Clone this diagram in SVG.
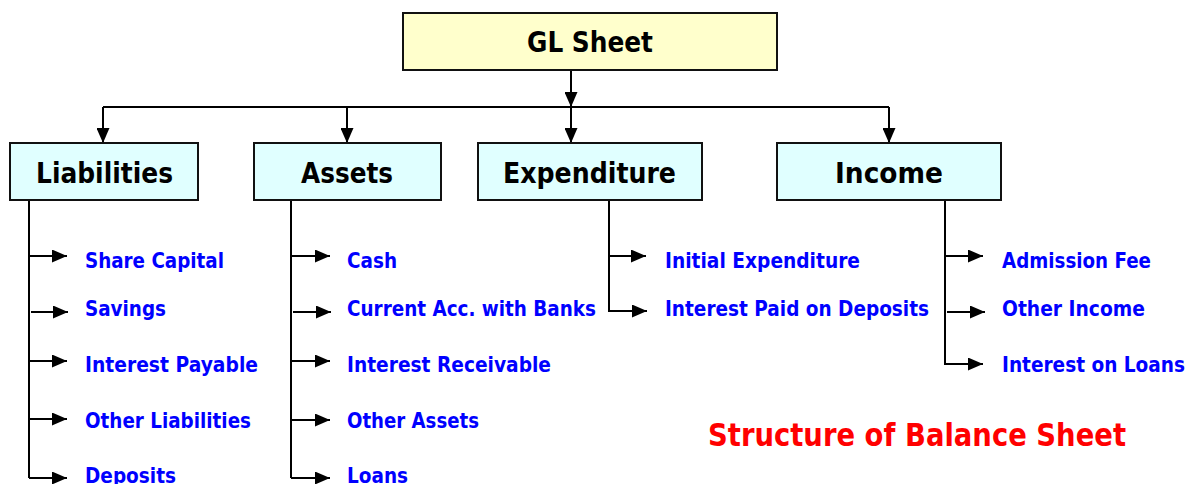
<svg xmlns="http://www.w3.org/2000/svg" width="1187" height="484" viewBox="0 0 1187 484">
  <style>
    .box { stroke: #111; stroke-width: 2; }
    .root { fill: #FFFFCC; }
    .cat { fill: #E0FFFF; }
    .head { font-family: "DejaVu Sans", Verdana, sans-serif; font-weight: bold; font-size: 28px; fill: #000; }
    .item { font-family: "DejaVu Sans", Verdana, sans-serif; font-weight: bold; font-size: 21px; fill: #0000FF; }
    .title { font-family: "DejaVu Sans", Verdana, sans-serif; font-weight: bold; font-size: 32px; fill: #FF0000; }
    .wire { fill: none; stroke: #000; stroke-width: 2; }
  </style>
  <defs>
    <marker id="arrow" markerUnits="userSpaceOnUse" markerWidth="15" markerHeight="13" refX="15" refY="6.5" orient="auto">
      <path d="M0,0 L15,6.5 L0,13 z" fill="#000"/>
    </marker>
  </defs>
  <rect width="1187" height="484" fill="#fff"/>

  <!-- connectors -->
  <g id="connectors" class="wire" marker-end="url(#arrow)">
    <path d="M571 70 V107"/>
    <path d="M103 107 H889" marker-end="none"/>
    <path d="M103 107 V143"/>
    <path d="M347 107 V143"/>
    <path d="M571 107 V143"/>
    <path d="M889 107 V143"/>

    <!-- liabilities -->
    <path d="M29 200 V478" marker-end="none"/>
    <path d="M29 256 H67"/>
    <path d="M31 312 H68"/>
    <path d="M29 361 H67"/>
    <path d="M29 419 H67"/>
    <path d="M29 478 H67"/>

    <!-- assets -->
    <path d="M291 200 V478" marker-end="none"/>
    <path d="M291 256 H330"/>
    <path d="M293 312 H331"/>
    <path d="M291 361 H330"/>
    <path d="M291 420 H330"/>
    <path d="M291 478 H330"/>

    <!-- expenditure -->
    <path d="M609 200 V311 H647"/>
    <path d="M609 256 H646"/>

    <!-- income -->
    <path d="M945 200 V364 H983"/>
    <path d="M945 256 H983"/>
    <path d="M947 312 H985"/>
  </g>

  <!-- nodes -->
  <g id="gl-sheet">
    <rect class="box root" x="403" y="13" width="374" height="57"/>
    <text class="head" x="527" y="52" textLength="126" lengthAdjust="spacingAndGlyphs">GL Sheet</text>
  </g>
  <g id="liabilities">
    <rect class="box cat" x="10" y="143" width="188" height="57"/>
    <text class="head" x="36" y="183" textLength="137" lengthAdjust="spacingAndGlyphs">Liabilities</text>
  </g>
  <g id="assets">
    <rect class="box cat" x="254" y="143" width="187" height="57"/>
    <text class="head" x="301" y="183" textLength="92" lengthAdjust="spacingAndGlyphs">Assets</text>
  </g>
  <g id="expenditure">
    <rect class="box cat" x="478" y="143" width="224" height="57"/>
    <text class="head" x="503" y="183" textLength="173" lengthAdjust="spacingAndGlyphs">Expenditure</text>
  </g>
  <g id="income">
    <rect class="box cat" x="777" y="143" width="224" height="57"/>
    <text class="head" x="835" y="183" textLength="108" lengthAdjust="spacingAndGlyphs">Income</text>
  </g>

  <g id="liability-items">
    <text class="item" x="85" y="268" textLength="139" lengthAdjust="spacingAndGlyphs">Share Capital</text>
    <text class="item" x="85" y="316" textLength="81" lengthAdjust="spacingAndGlyphs">Savings</text>
    <text class="item" x="85" y="372" textLength="173" lengthAdjust="spacingAndGlyphs">Interest Payable</text>
    <text class="item" x="85" y="428" textLength="166" lengthAdjust="spacingAndGlyphs">Other Liabilities</text>
    <text class="item" x="85" y="483" textLength="91" lengthAdjust="spacingAndGlyphs">Deposits</text>
  </g>
  <g id="asset-items">
    <text class="item" x="347" y="268" textLength="50" lengthAdjust="spacingAndGlyphs">Cash</text>
    <text class="item" x="347" y="316" textLength="249" lengthAdjust="spacingAndGlyphs">Current Acc. with Banks</text>
    <text class="item" x="347" y="372" textLength="204" lengthAdjust="spacingAndGlyphs">Interest Receivable</text>
    <text class="item" x="347" y="428" textLength="132" lengthAdjust="spacingAndGlyphs">Other Assets</text>
    <text class="item" x="347" y="483" textLength="61" lengthAdjust="spacingAndGlyphs">Loans</text>
  </g>
  <g id="expenditure-items">
    <text class="item" x="665" y="268" textLength="195" lengthAdjust="spacingAndGlyphs">Initial Expenditure</text>
    <text class="item" x="665" y="316" textLength="264" lengthAdjust="spacingAndGlyphs">Interest Paid on Deposits</text>
  </g>
  <g id="income-items">
    <text class="item" x="1002" y="268" textLength="149" lengthAdjust="spacingAndGlyphs">Admission Fee</text>
    <text class="item" x="1002" y="316" textLength="143" lengthAdjust="spacingAndGlyphs">Other Income</text>
    <text class="item" x="1002" y="372" textLength="183" lengthAdjust="spacingAndGlyphs">Interest on Loans</text>
  </g>

  <text id="title" class="title" x="708" y="446" textLength="418" lengthAdjust="spacingAndGlyphs">Structure of Balance Sheet</text>
</svg>
